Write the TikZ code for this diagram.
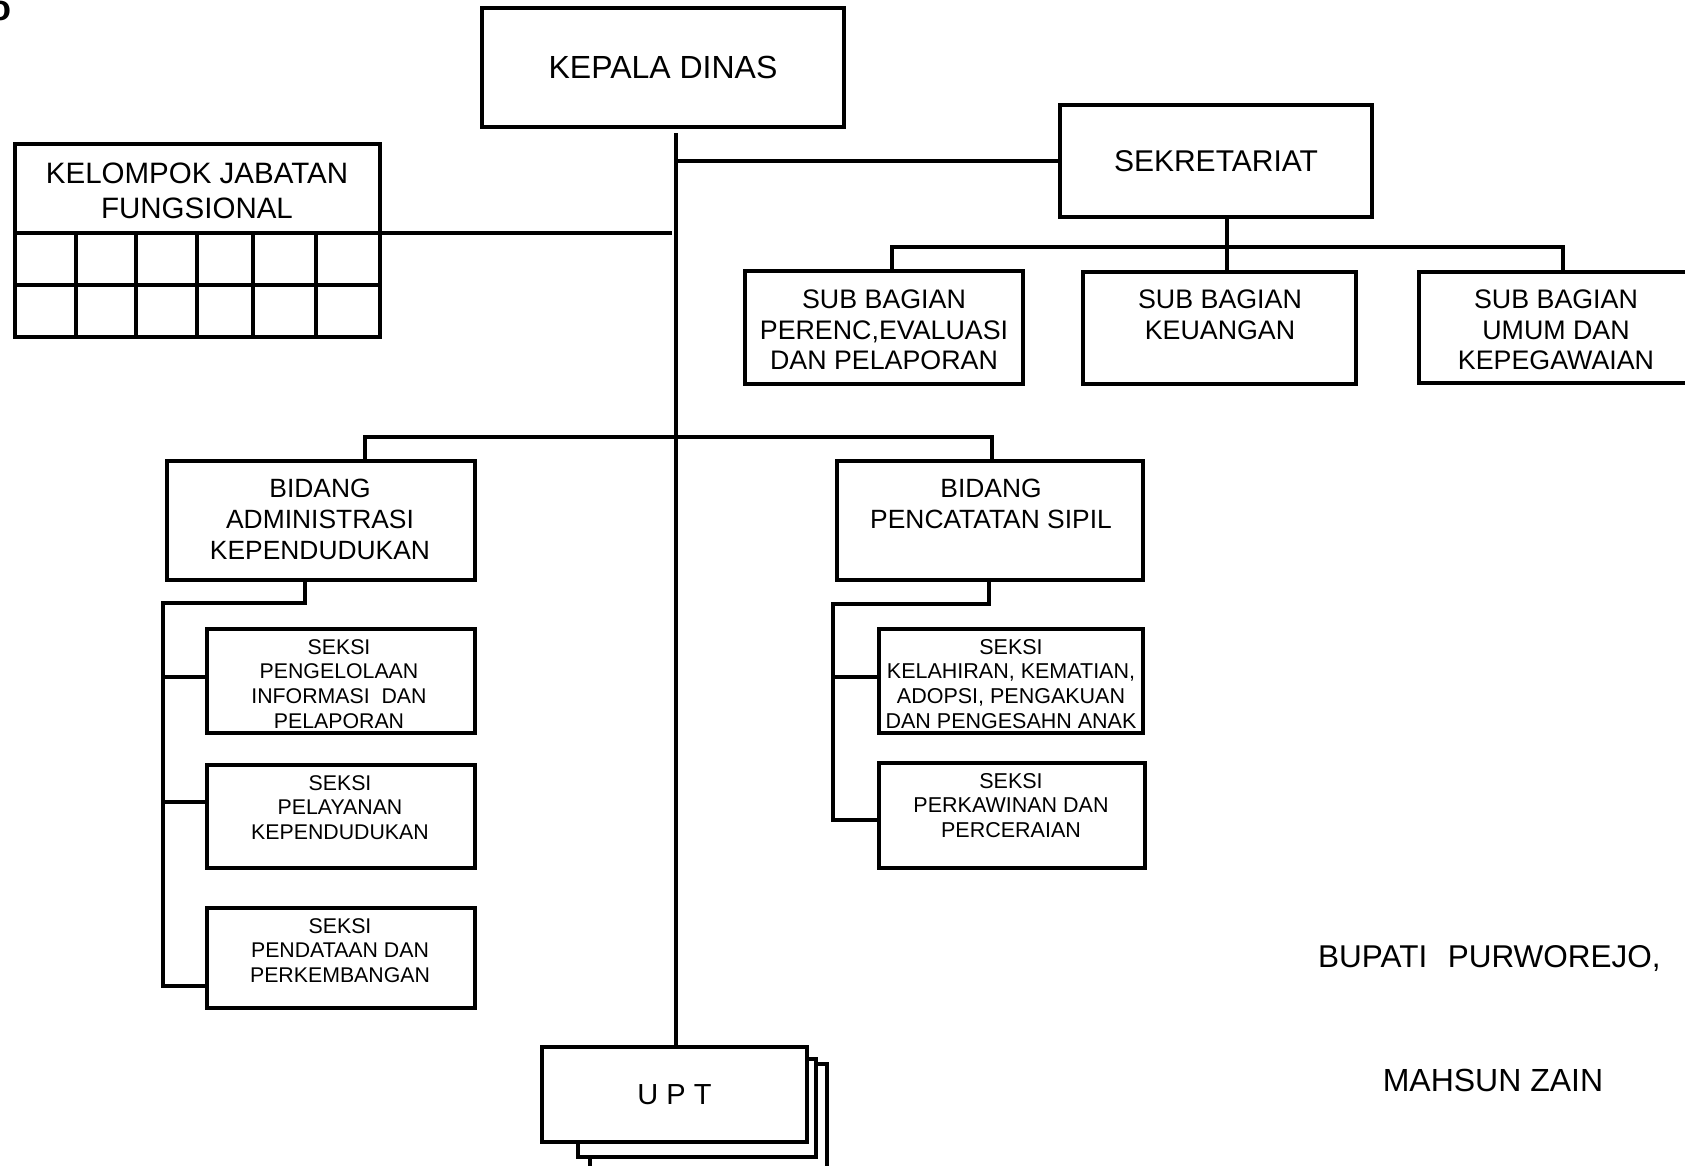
\documentclass[tikz,border=0pt]{standalone}
\usepackage{fontspec}
\setmainfont{Liberation Sans}
\tikzset{
  box/.style={draw, line width=4pt, rectangle, inner sep=0pt, fill=white, align=center},
  conn/.style={line width=4pt},
  tx/.style={anchor=north, inner sep=0pt, align=center},
}
\newcommand{\fs}[2]{\fontsize{#1}{#2}\selectfont}
\begin{document}
\begin{tikzpicture}[x=1pt,y=-1pt]
\useasboundingbox (0,0) rectangle (1685,1165);
\fill[white] (0,0) rectangle (1685,1165);

% fragment at top-left
\node[anchor=base east, inner sep=0pt, font=\fs{36}{40}\bfseries] (frag) at (12,20) {o};

% top level
\node[box, minimum width=362, minimum height=119, font=\fs{32}{36}] (kd) at (663,67.5) {KEPALA DINAS};
\node[box, minimum width=312, minimum height=112, font=\fs{30}{34}] (sek) at (1216,161) {SEKRETARIAT};

% kelompok jabatan fungsional
\node[box, minimum width=365, minimum height=193] (kel) at (197.5,240.5) {};
\draw[conn] (15,233) -- (380,233);
\draw[conn] (15,285) -- (380,285);
\foreach \xx in {76,136,197,253,316} { \draw[conn] (\xx,233) -- (\xx,337); }
\node[tx, font=\fs{29.5}{35}] (kelt) at (197,163) {KELOMPOK JABATAN\\FUNGSIONAL};

% sub bagian
\node[box, minimum width=278, minimum height=113] (sb1) at (884,327.5) {};
\node[box, minimum width=273, minimum height=112] (sb2) at (1219.5,328) {};
\node[box, minimum width=274, minimum height=111] (sb3) at (1556,327.5) {};
\node[tx, font=\fs{26.8}{30.2}] (sb1t) at (884,290) {SUB BAGIAN\\PERENC,EVALUASI\\DAN PELAPORAN};
\node[tx, font=\fs{26.8}{30.2}] (sb2t) at (1220,290) {SUB BAGIAN\\KEUANGAN};
\node[tx, font=\fs{26.8}{30.2}] (sb3t) at (1556,290) {SUB BAGIAN\\UMUM DAN\\KEPEGAWAIAN};

% bidang
\node[box, minimum width=308, minimum height=119] (bad) at (321,520.5) {};
\node[box, minimum width=306, minimum height=119] (bps) at (990,520.5) {};
\node[tx, font=\fs{26.4}{31}] (badt) at (320,479) {BIDANG\\ADMINISTRASI\\KEPENDUDUKAN};
\node[tx, font=\fs{26.4}{31}] (bpst) at (991,479) {BIDANG\\PENCATATAN SIPIL};

% seksi
\node[box, minimum width=268, minimum height=104] (s1) at (341,681) {};
\node[box, minimum width=268, minimum height=103] (s2) at (341,816.5) {};
\node[box, minimum width=268, minimum height=100] (s3) at (341,958) {};
\node[box, minimum width=264, minimum height=104] (s4) at (1011,681) {};
\node[box, minimum width=266, minimum height=105] (s5) at (1012,815.5) {};
\node[tx, font=\fs{21.3}{24.7}] (s1t) at (339,639) {SEKSI\\PENGELOLAAN\\INFORMASI\ \ DAN\\PELAPORAN};
\node[tx, font=\fs{21.3}{24.7}] (s2t) at (340,775) {SEKSI\\PELAYANAN\\KEPENDUDUKAN};
\node[tx, font=\fs{21.3}{24.7}] (s3t) at (340,918) {SEKSI\\PENDATAAN DAN\\PERKEMBANGAN};
\node[tx, font=\fs{21.5}{24.7}] (s4t) at (1011,639) {SEKSI\\KELAHIRAN, KEMATIAN,\\ADOPSI, PENGAKUAN\\DAN PENGESAHN ANAK};
\node[tx, font=\fs{21.5}{24.7}] (s5t) at (1011,773) {SEKSI\\PERKAWINAN DAN\\PERCERAIAN};

% UPT stack
\node[box, minimum width=237, minimum height=111] (upt3) at (708.5,1119.5) {};
\node[box, minimum width=238, minimum height=98] (upt2) at (697,1108) {};
\node[box, minimum width=265, minimum height=95, font=\fs{29}{33}] (upt) at (674.5,1094.5) {U P T};

% signature
\node[anchor=west, inner sep=0pt, font=\fs{31.5}{35}] (bupati) at (1318,958.5) {BUPATI\hspace{0.65em}PURWOREJO,};
\node[inner sep=0pt, font=\fs{32}{36}] (mahsun) at (1493,1080) {MAHSUN ZAIN};

% connectors
\coordinate (m0) at (676,133);
\draw[conn] (m0) -- (m0 |- upt.north);
\draw[conn] (m0 |- sek.west) -- (sek.west);
\coordinate (kelr) at (380,233);
\coordinate (kelm) at (672,233);
\draw[conn] (kelr) -- (kelm);

\draw[conn] (sek.south -| 1227,0) -- (sb2.north -| 1227,0);
\draw[conn] (sb1.north -| 892,0) -- (892,247) -- (1563,247) -- (sb3.north -| 1563,0);

\draw[conn] (bad.north -| 365,0) -- (365,437) -- (992,437) -- (bps.north -| 992,0);

\draw[conn] (bad.south -| 305,0) -- (305,603) -- (163,603) -- (163,986) -- (s3.west |- 0,986);
\draw[conn] (163,677) -- (s1.west |- 0,677);
\draw[conn] (163,802) -- (s2.west |- 0,802);

\draw[conn] (bps.south -| 989,0) -- (989,604) -- (833,604) -- (833,820) -- (s5.west |- 0,820);
\draw[conn] (833,677) -- (s4.west |- 0,677);
\end{tikzpicture}
\end{document}
